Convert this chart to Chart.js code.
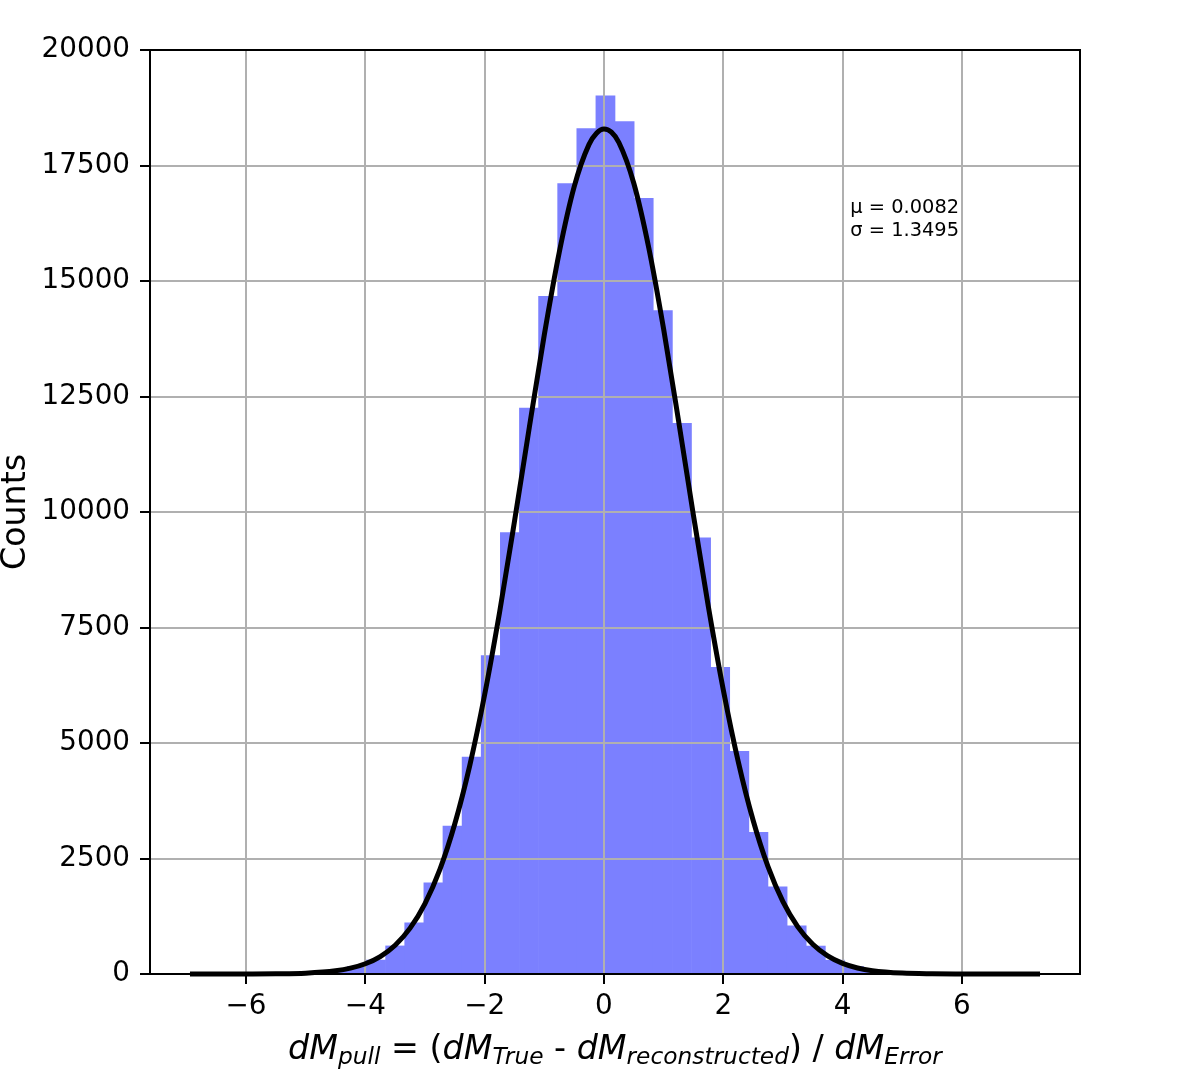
<!DOCTYPE html>
<html><head><meta charset="utf-8">
<script src="https://cdn.jsdelivr.net/npm/chart.js@4/dist/chart.umd.min.js"></script>
<style>html,body{margin:0;padding:0;background:#fff}canvas{display:block}</style>
</head><body>
<canvas id="c" width="1198" height="1078"></canvas>
<script>
// ---- data ----
const binCenters = [-5.744,-5.424,-5.103,-4.782,-4.462,-4.141,-3.821,-3.500,-3.180,-2.859,-2.539,-2.218,-1.898,-1.577,-1.257,-0.936,-0.616,-0.295,0.025,0.346,0.666,0.987,1.307,1.628,1.948,2.269,2.589,2.910,3.230,3.551,3.871,4.192,4.512,4.833,5.153,5.474,5.794];
const binCounts  = [3,6,15,35,90,165,302,608,1108,1973,3203,4694,6890,9555,12250,14670,17110,18300,19010,18450,16790,14360,11920,9440,6638,4817,3067,1886,1040,605,300,160,75,35,15,6,3];
const curveX = [-6.94,-6.5,-6,-5.5,-5,-4.5,-4.25,-4,-3.75,-3.5,-3.25,-3,-2.75,-2.5,-2.25,-2,-1.75,-1.5,-1.25,-1,-0.75,-0.5,-0.25,-0.125,0,0.125,0.25,0.5,0.75,1,1.25,1.5,1.75,2,2.25,2.5,2.75,3,3.25,3.5,3.75,4,4.25,4.5,5,5.5,6,6.5,7.31];
const curveY = [0,0.2,0.9,4.4,18.7,69,126,222,378,623,992,1525,2266,3252,4510,6047,7828,9796,11843,13837,15619,17039,17958,18200,18289,18221,17998,17115,15725,13960,11976,9928,7952,6154,4602,3327,2323,1566,1021,643,392,230,131,72,19.5,4.6,1,0.2,0];
const xTickValues = [-6,-4,-2,0,2,4,6];
const yTickValues = [0,2500,5000,7500,10000,12500,15000,17500,20000];
const xRange = [-7.61, 7.98];
const yRange = [0, 20000];
const fitLabels = ['\u03bc = 0.0082', '\u03c3 = 1.3495'];
const yTitle = 'Counts';
const xTitleParts = [
  ['dM', 'i'], ['pull', 's'], [' = (', 'n'], ['dM', 'i'], ['True', 's'], [' - ', 'n'],
  ['dM', 'i'], ['reconstructed', 's'], [') / ', 'n'], ['dM', 'i'], ['Error', 's']
];

const FONT = '"DejaVu Sans", "Liberation Sans", sans-serif';
const TICK_PX = 27.8, LABEL_PX = 33.3, SUB_PX = 23.3, NOTE_PX = 19.4;

const overlay = {
  id: 'overlay',
  beforeDatasetDraw(chart, args) {
    if (args.index === 1 && !chart.$late) return false;
  },
  afterDraw(chart) {
    const ctx = chart.ctx, a = chart.chartArea;
    chart.$late = true;
    chart.getDatasetMeta(1).controller.draw();
    chart.$late = false;
    ctx.save();
    // spines
    ctx.strokeStyle = '#000'; ctx.lineWidth = 2;
    ctx.strokeRect(a.left, a.top, a.right - a.left, a.bottom - a.top);
    // fit parameters
    ctx.fillStyle = '#000';
    ctx.font = NOTE_PX + 'px ' + FONT;
    ctx.textAlign = 'left'; ctx.textBaseline = 'alphabetic';
    const nx = a.left + 0.753 * (a.right - a.left);
    const h = a.bottom - a.top;
    ctx.fillText(fitLabels[0], nx, a.top + 0.1764 * h);
    ctx.fillText(fitLabels[1], nx, a.top + 0.2013 * h);
    // x title with subscripts
    const fontOf = k => k === 'i' ? 'italic ' + LABEL_PX + 'px ' + FONT :
                        k === 's' ? 'italic ' + SUB_PX + 'px ' + FONT :
                        LABEL_PX + 'px ' + FONT;
    let total = 0;
    const widths = xTitleParts.map(([t, k]) => { ctx.font = fontOf(k); const w = ctx.measureText(t).width; total += w; return w; });
    let x = (a.left + a.right) / 2 - total / 2;
    const base = 1059;
    xTitleParts.forEach(([t, k], i) => {
      ctx.font = fontOf(k);
      ctx.fillText(t, x, k === 's' ? base + 5 : base);
      x += widths[i];
    });
    // y title
    ctx.translate(25, (a.top + a.bottom) / 2);
    ctx.rotate(-Math.PI / 2);
    ctx.textAlign = 'center';
    ctx.font = LABEL_PX + 'px ' + FONT;
    ctx.fillText(yTitle, 0, 0);
    ctx.restore();
  }
};

new Chart(document.getElementById('c'), {
  type: 'bar',
  data: {
    datasets: [
      {
        type: 'bar',
        data: binCenters.map((c, i) => ({ x: c, y: binCounts[i] })),
        backgroundColor: '#7b80ff',
        borderWidth: 0,
        barPercentage: 1.0,
        categoryPercentage: 1.0
      },
      {
        type: 'line',
        data: curveX.map((c, i) => ({ x: c, y: curveY[i] })),
        borderColor: '#000',
        borderWidth: 5,
        pointRadius: 0,
        fill: false,
        cubicInterpolationMode: 'monotone'
      }
    ]
  },
  options: {
    responsive: false,
    animation: false,
    devicePixelRatio: 1,
    layout: { padding: { left: 0, right: 118, top: 50, bottom: 0 } },
    plugins: { legend: { display: false }, tooltip: { enabled: false } },
    scales: {
      x: {
        type: 'linear', min: xRange[0], max: xRange[1], offset: false,
        afterBuildTicks: s => { s.ticks = xTickValues.map(v => ({ value: v })); },
        afterFit: s => { s.height = 104; },
        grid: { z: 1, offset: false, color: '#b0b0b0', lineWidth: 2, tickColor: '#000', tickWidth: 2, tickLength: 10, drawTicks: true },
        border: { display: false },
        ticks: { color: '#000', padding: 6, maxRotation: 0, font: { family: FONT, size: TICK_PX },
                 callback: v => v < 0 ? '\u2212' + Math.abs(v) : String(v) }
      },
      y: {
        type: 'linear', min: yRange[0], max: yRange[1],
        afterBuildTicks: s => { s.ticks = yTickValues.map(v => ({ value: v })); },
        afterFit: s => { s.width = 150; },
        grid: { z: 1, color: '#b0b0b0', lineWidth: 2, tickColor: '#000', tickWidth: 2, tickLength: 10, drawTicks: true },
        border: { display: false },
        ticks: { color: '#000', padding: 10, font: { family: FONT, size: TICK_PX },
                 callback: v => String(v) }
      }
    }
  },
  plugins: [overlay]
});
</script>
</body></html>
